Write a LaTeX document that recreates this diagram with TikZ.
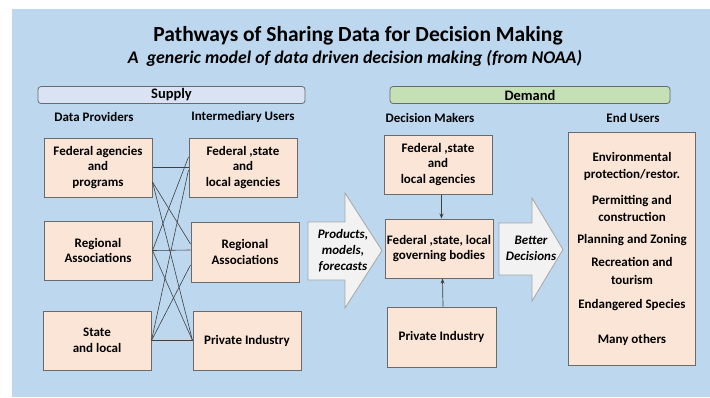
\documentclass[tikz,border=0pt]{standalone}
\usepackage{fontspec}
\setmainfont{Carlito}
\usetikzlibrary{arrows.meta}
\definecolor{bgblue}{HTML}{BDD7EE}
\definecolor{peach}{HTML}{FBE5D6}
\definecolor{boxline}{HTML}{6A6A6A}
\definecolor{linkgray}{HTML}{404040}
\definecolor{supplyfill}{HTML}{DAE3F3}
\definecolor{demandfill}{HTML}{C5E0B4}
\definecolor{arrfill}{HTML}{F2F2F2}
\definecolor{arrline}{HTML}{A6A6A6}
\begin{document}
\begin{tikzpicture}[x=1pt,y=-1pt,
  box/.style={draw=boxline, line width=1pt, fill=peach, align=center,
    font=\bfseries\fontsize{13}{15.7}\selectfont, inner sep=0pt},
  hdr/.style={font=\bfseries\fontsize{13}{15}\selectfont, inner sep=0pt},
  band/.style={draw=boxline, line width=0.8pt, rounded corners=3pt, inner sep=0pt,
    minimum height=17pt, font=\bfseries\fontsize{14.5}{16}\selectfont},
  link/.style={draw=linkgray, line width=0.6pt},
  vert/.style={draw=linkgray, line width=0.7pt, -{Stealth[length=5pt,width=4pt]}},
  bigarrow/.style={draw=arrline, line width=0.8pt, fill=arrfill},
  arrtext/.style={align=center, font=\bfseries\itshape\fontsize{13}{16}\selectfont, inner sep=0pt}]
\useasboundingbox (0,0) rectangle (710,397);
\fill[bgblue] (12,9) rectangle (710,397);

\node[font=\bfseries\fontsize{21.5}{24}\selectfont] (title) at (358,36) {Pathways of Sharing Data for Decision Making};
\node[font=\bfseries\itshape\fontsize{17.8}{20}\selectfont] (subtitle) at (355,58) {A\ \ generic model of data driven decision making (from NOAA)};

\node[band, fill=supplyfill, minimum width=267pt] (supply) at (171.5,95) {Supply};
\node[band, fill=demandfill, minimum width=280pt] (demand) at (530,95) {Demand};

\node[hdr] (hprov) at (94,117) {Data Providers};
\node[hdr] (hinter) at (243,117) {Intermediary Users};
\node[hdr] (hdec) at (430,118) {Decision Makers};
\node[hdr] (hend) at (633,118) {End Users};

\node[box, minimum width=108pt, minimum height=59pt] (l1) at (98,167.5) {Federal agencies\\and\\programs};
\node[box, minimum width=108pt, minimum height=59pt] (l2) at (98,250.5) {Regional\\Associations};
\node[box, minimum width=108pt, minimum height=59pt] (l3) at (97,340.5) {State\\and local};
\node[box, minimum width=108pt, minimum height=59pt] (m1) at (243,167.5) {Federal ,state\\and\\local agencies};
\node[box, minimum width=108pt, minimum height=60pt] (m2) at (245,252) {Regional\\Associations};
\node[box, minimum width=108pt, minimum height=59pt] (m3) at (247,340.5) {Private Industry};

\draw[link] (l1.east) -- (m1.west);
\draw[link] ([yshift=-14.5pt]l1.east) -- ([yshift=8pt]m2.west);
\draw[link] ([yshift=-14.5pt]l1.east) -- (m3.west);
\draw[link] (l2.east) -- ([yshift=10.5pt]m1.west);
\draw[link] (l2.east) -- ([yshift=2pt]m2.west);
\draw[link] (l2.east) -- (m3.west);
\draw[link] (l3.east) -- ([yshift=-2.5pt]m1.west);
\draw[link] (l3.east) -- ([yshift=-13pt]m2.west);
\draw[link] (l3.east) -- (m3.west);

\draw[bigarrow] (308,222) -- (345,222) -- (345,193) -- (382,250.5) -- (345,308) -- (345,280) -- (308,280) -- cycle;
\node[arrtext] (prod) at (343,251) {Products,\\models,\\forecasts};

\node[box, minimum width=108pt, minimum height=59pt] (d1) at (438,164.5) {Federal ,state\\and\\local agencies};
\node[box, minimum width=108pt, minimum height=59pt] (d2) at (439,248.5) {Federal ,state, local\\governing bodies};
\node[box, minimum width=109pt, minimum height=60pt] (d3) at (441.5,337) {Private Industry};
\draw[vert] ([xshift=3.5pt]d1.south) -- ([xshift=2.5pt]d2.north);
\draw[vert] ([xshift=1.5pt]d3.north) -- ([xshift=3.5pt]d2.south);

\draw[bigarrow] (499,223) -- (532,223) -- (532,198) -- (563,249.5) -- (532,301) -- (532,275) -- (499,275) -- cycle;
\node[arrtext] (better) at (531,248) {Better\\Decisions};

\node[box, minimum width=127pt, minimum height=233pt, font=\bfseries\fontsize{13}{17.5}\selectfont] (endu) at (632,248.5)
  {Environmental\\protection/restor.\\[8pt]Permitting and\\construction\\[4.5pt]Planning and Zoning\\[5.5pt]Recreation and\\tourism\\[6.5pt]Endangered Species\\[17.5pt]Many others};
\end{tikzpicture}
\end{document}
